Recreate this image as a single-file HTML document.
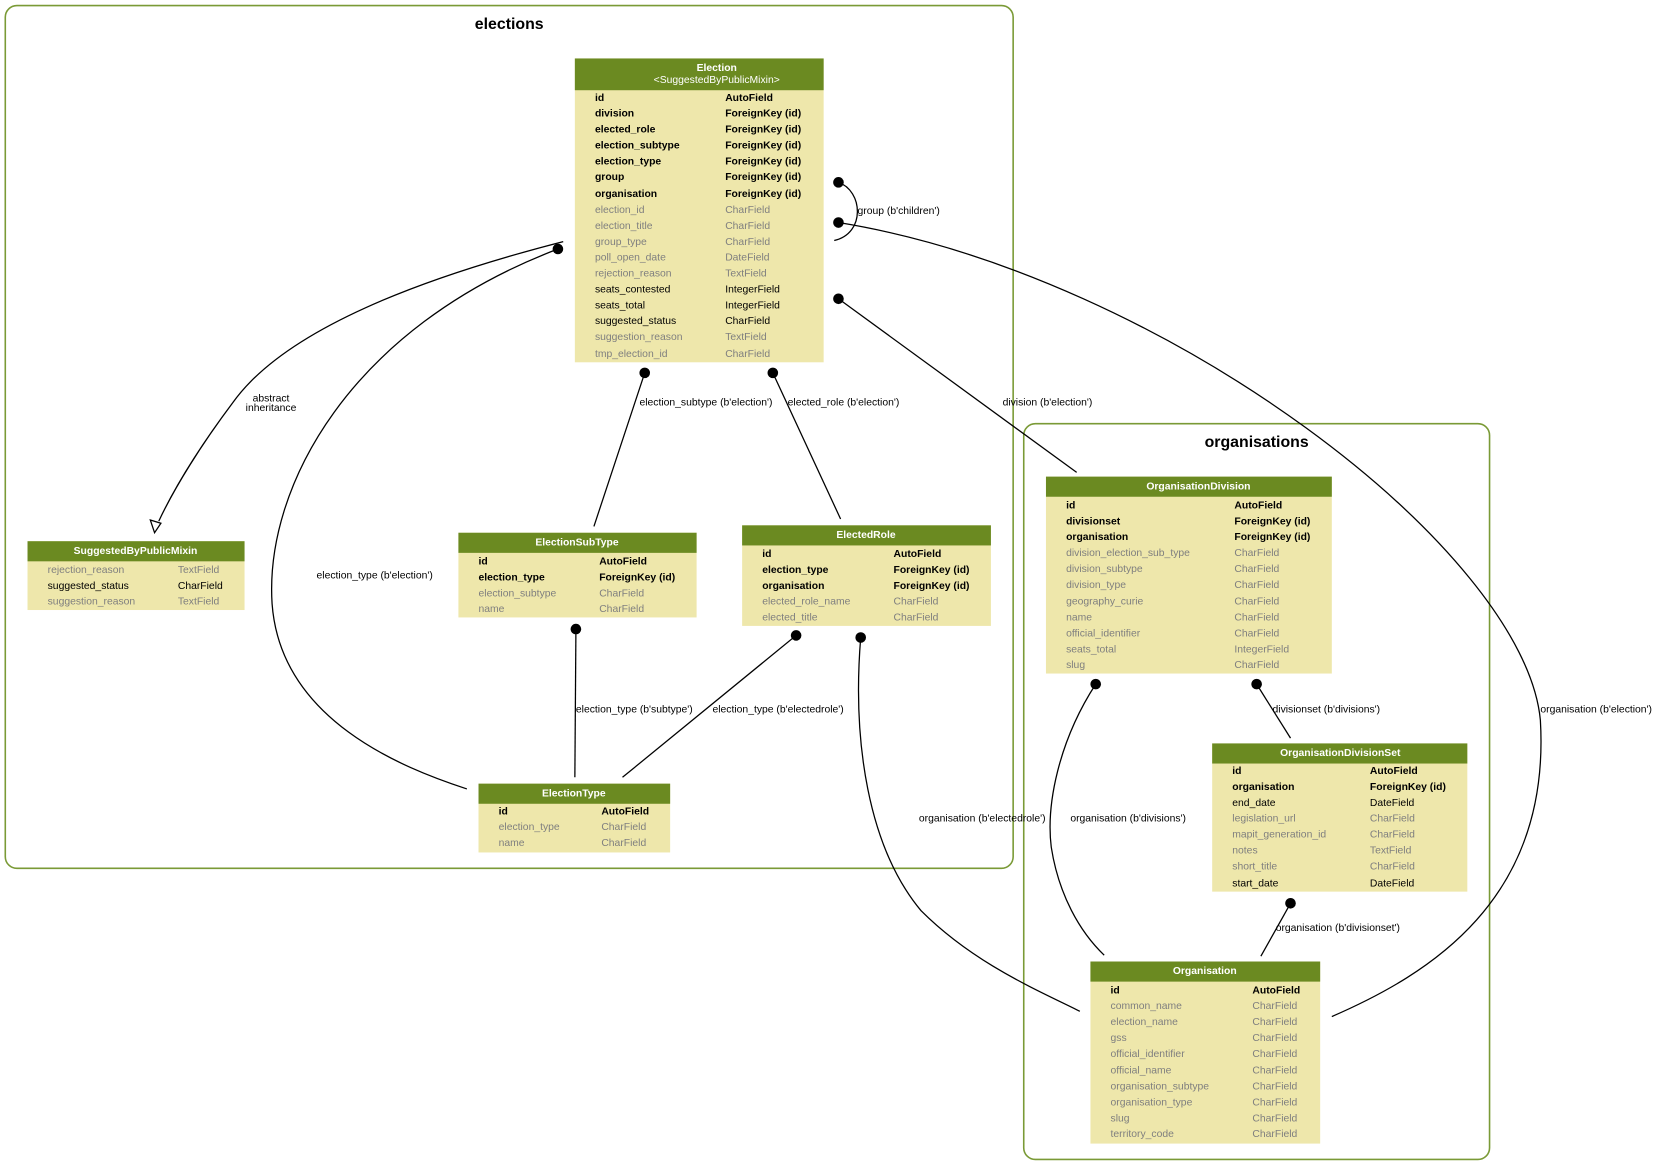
<!DOCTYPE html>
<html><head><meta charset="utf-8"><style>
html,body{margin:0;padding:0;background:#fff;}
svg{display:block;}
text{font-family:"Liberation Sans",Arial,sans-serif;}
.t{font-size:9.8px;fill:#000;}
.b{font-weight:bold;}
.g{fill:#7f7f7f;}
.h{fill:#fff;font-weight:bold;font-size:9.8px;text-anchor:middle;}
.n{font-weight:normal;}
.l{font-size:9.8px;fill:#000;}
.e{fill:none;stroke:#000;stroke-width:1.2;}
.hd{fill:#6b8a21;}
.bd{fill:#eee7ab;}
.cl{fill:none;stroke:#7a9a36;stroke-width:1.5;}
</style></head><body>
<svg width="1660" height="1165" viewBox="0 0 1568 1100" xmlns="http://www.w3.org/2000/svg">
<rect x="5" y="5" width="952" height="815" rx="11" class="cl"/>
<text x="481" y="27" text-anchor="middle" font-size="15" font-weight="bold">elections</text>
<rect x="967" y="400" width="440" height="695" rx="11" class="cl"/>
<text x="1187" y="422" text-anchor="middle" font-size="15" font-weight="bold">organisations</text>

<!-- edges -->
<path class="e" d="M792,172 C815,180 818,220 788,227"/>
<text class="l" x="810" y="202">group (b'children')</text>
<path class="e" d="M792,210 C1100,260 1440,520 1455,680 C1465,850 1350,920 1258,960"/>
<text class="l" x="1455" y="673">organisation (b'election')</text>
<path class="e" d="M792,282 L1017,446"/>
<text class="l" x="947" y="383">division (b'election')</text>
<path class="e" d="M609,352 L561,497"/>
<text class="l" x="604" y="383">election_subtype (b'election')</text>
<path class="e" d="M730,352 L794,490"/>
<text class="l" x="744" y="383">elected_role (b'election')</text>
<path class="e" d="M532,228 C400,262 270,310 220,380 C190,420 165,460 150,492"/>
<polygon points="142,491 152,494 146,503" fill="#fff" stroke="#000" stroke-width="1.2"/>
<text class="l" x="256" y="379" text-anchor="middle">abstract</text>
<text class="l" x="256" y="388" text-anchor="middle">inheritance</text>
<path class="e" d="M527,235 C330,310 250,460 257,570 C265,680 380,725 441,745"/>
<text class="l" x="299" y="546">election_type (b'election')</text>
<path class="e" d="M544,594 L543,734"/>
<text class="l" x="544" y="673">election_type (b'subtype')</text>
<path class="e" d="M752,600 L588,734"/>
<text class="l" x="673" y="673">election_type (b'electedrole')</text>
<path class="e" d="M813,602 C805,700 820,800 870,860 C920,910 980,935 1020,955"/>
<text class="l" x="868" y="776">organisation (b'electedrole')</text>
<path class="e" d="M1035,646 C1000,700 988,760 993,800 C1000,845 1020,880 1043,902"/>
<text class="l" x="1011" y="776">organisation (b'divisions')</text>
<path class="e" d="M1187,646 L1219,697"/>
<text class="l" x="1202" y="673">divisionset (b'divisions')</text>
<path class="e" d="M1219,853 L1191,903"/>
<text class="l" x="1205" y="879">organisation (b'divisionset')</text>
<g fill="#000">
<circle cx="792" cy="172" r="5"/><circle cx="792" cy="210" r="5"/><circle cx="792" cy="282" r="5"/>
<circle cx="609" cy="352" r="5"/><circle cx="730" cy="352" r="5"/><circle cx="527" cy="235" r="5"/>
<circle cx="544" cy="594" r="5"/><circle cx="752" cy="600" r="5"/><circle cx="813" cy="602" r="5"/>
<circle cx="1035" cy="646" r="5"/><circle cx="1187" cy="646" r="5"/><circle cx="1219" cy="853" r="5"/>
</g>

<!-- Election -->
<rect class="bd" x="543" y="55" width="235" height="287"/>
<rect class="hd" x="543" y="55" width="235" height="30"/>
<text class="h" x="677" y="67">Election</text>
<text class="h n" x="677" y="78">&lt;SuggestedByPublicMixin&gt;</text>
<g class="t">
<text class="b" x="562" y="95">id</text><text class="b" x="685" y="95">AutoField</text>
<text class="b" x="562" y="110">division</text><text class="b" x="685" y="110">ForeignKey (id)</text>
<text class="b" x="562" y="125">elected_role</text><text class="b" x="685" y="125">ForeignKey (id)</text>
<text class="b" x="562" y="140">election_subtype</text><text class="b" x="685" y="140">ForeignKey (id)</text>
<text class="b" x="562" y="155">election_type</text><text class="b" x="685" y="155">ForeignKey (id)</text>
<text class="b" x="562" y="170">group</text><text class="b" x="685" y="170">ForeignKey (id)</text>
<text class="b" x="562" y="186">organisation</text><text class="b" x="685" y="186">ForeignKey (id)</text>
<text class="g" x="562" y="201">election_id</text><text class="g" x="685" y="201">CharField</text>
<text class="g" x="562" y="216">election_title</text><text class="g" x="685" y="216">CharField</text>
<text class="g" x="562" y="231">group_type</text><text class="g" x="685" y="231">CharField</text>
<text class="g" x="562" y="246">poll_open_date</text><text class="g" x="685" y="246">DateField</text>
<text class="g" x="562" y="261">rejection_reason</text><text class="g" x="685" y="261">TextField</text>
<text x="562" y="276">seats_contested</text><text x="685" y="276">IntegerField</text>
<text x="562" y="291">seats_total</text><text x="685" y="291">IntegerField</text>
<text x="562" y="306">suggested_status</text><text x="685" y="306">CharField</text>
<text class="g" x="562" y="321">suggestion_reason</text><text class="g" x="685" y="321">TextField</text>
<text class="g" x="562" y="337">tmp_election_id</text><text class="g" x="685" y="337">CharField</text>
</g>

<!-- SuggestedByPublicMixin -->
<rect class="bd" x="26" y="511" width="205" height="65"/>
<rect class="hd" x="26" y="511" width="205" height="19"/>
<text class="h" x="128" y="523">SuggestedByPublicMixin</text>
<g class="t">
<text class="g" x="45" y="541">rejection_reason</text><text class="g" x="168" y="541">TextField</text>
<text x="45" y="556">suggested_status</text><text x="168" y="556">CharField</text>
<text class="g" x="45" y="571">suggestion_reason</text><text class="g" x="168" y="571">TextField</text>
</g>

<!-- ElectionSubType -->
<rect class="bd" x="433" y="503" width="225" height="80"/>
<rect class="hd" x="433" y="503" width="225" height="19"/>
<text class="h" x="545" y="515">ElectionSubType</text>
<g class="t">
<text class="b" x="452" y="533">id</text><text class="b" x="566" y="533">AutoField</text>
<text class="b" x="452" y="548">election_type</text><text class="b" x="566" y="548">ForeignKey (id)</text>
<text class="g" x="452" y="563">election_subtype</text><text class="g" x="566" y="563">CharField</text>
<text class="g" x="452" y="578">name</text><text class="g" x="566" y="578">CharField</text>
</g>

<!-- ElectedRole -->
<rect class="bd" x="701" y="496" width="235" height="95"/>
<rect class="hd" x="701" y="496" width="235" height="19"/>
<text class="h" x="818" y="508">ElectedRole</text>
<g class="t">
<text class="b" x="720" y="526">id</text><text class="b" x="844" y="526">AutoField</text>
<text class="b" x="720" y="541">election_type</text><text class="b" x="844" y="541">ForeignKey (id)</text>
<text class="b" x="720" y="556">organisation</text><text class="b" x="844" y="556">ForeignKey (id)</text>
<text class="g" x="720" y="571">elected_role_name</text><text class="g" x="844" y="571">CharField</text>
<text class="g" x="720" y="586">elected_title</text><text class="g" x="844" y="586">CharField</text>
</g>

<!-- ElectionType -->
<rect class="bd" x="452" y="740" width="181" height="65"/>
<rect class="hd" x="452" y="740" width="181" height="19"/>
<text class="h" x="542" y="752">ElectionType</text>
<g class="t">
<text class="b" x="471" y="769">id</text><text class="b" x="568" y="769">AutoField</text>
<text class="g" x="471" y="784">election_type</text><text class="g" x="568" y="784">CharField</text>
<text class="g" x="471" y="799">name</text><text class="g" x="568" y="799">CharField</text>
</g>

<!-- OrganisationDivision -->
<rect class="bd" x="988" y="450" width="270" height="186"/>
<rect class="hd" x="988" y="450" width="270" height="19"/>
<text class="h" x="1132" y="462">OrganisationDivision</text>
<g class="t">
<text class="b" x="1007" y="480">id</text><text class="b" x="1166" y="480">AutoField</text>
<text class="b" x="1007" y="495">divisionset</text><text class="b" x="1166" y="495">ForeignKey (id)</text>
<text class="b" x="1007" y="510">organisation</text><text class="b" x="1166" y="510">ForeignKey (id)</text>
<text class="g" x="1007" y="525">division_election_sub_type</text><text class="g" x="1166" y="525">CharField</text>
<text class="g" x="1007" y="540">division_subtype</text><text class="g" x="1166" y="540">CharField</text>
<text class="g" x="1007" y="555">division_type</text><text class="g" x="1166" y="555">CharField</text>
<text class="g" x="1007" y="571">geography_curie</text><text class="g" x="1166" y="571">CharField</text>
<text class="g" x="1007" y="586">name</text><text class="g" x="1166" y="586">CharField</text>
<text class="g" x="1007" y="601">official_identifier</text><text class="g" x="1166" y="601">CharField</text>
<text class="g" x="1007" y="616">seats_total</text><text class="g" x="1166" y="616">IntegerField</text>
<text class="g" x="1007" y="631">slug</text><text class="g" x="1166" y="631">CharField</text>
</g>

<!-- OrganisationDivisionSet -->
<rect class="bd" x="1145" y="702" width="241" height="140"/>
<rect class="hd" x="1145" y="702" width="241" height="19"/>
<text class="h" x="1266" y="714">OrganisationDivisionSet</text>
<g class="t">
<text class="b" x="1164" y="731">id</text><text class="b" x="1294" y="731">AutoField</text>
<text class="b" x="1164" y="746">organisation</text><text class="b" x="1294" y="746">ForeignKey (id)</text>
<text x="1164" y="761">end_date</text><text x="1294" y="761">DateField</text>
<text class="g" x="1164" y="776">legislation_url</text><text class="g" x="1294" y="776">CharField</text>
<text class="g" x="1164" y="791">mapit_generation_id</text><text class="g" x="1294" y="791">CharField</text>
<text class="g" x="1164" y="806">notes</text><text class="g" x="1294" y="806">TextField</text>
<text class="g" x="1164" y="821">short_title</text><text class="g" x="1294" y="821">CharField</text>
<text x="1164" y="837">start_date</text><text x="1294" y="837">DateField</text>
</g>

<!-- Organisation -->
<rect class="bd" x="1030" y="908" width="217" height="172"/>
<rect class="hd" x="1030" y="908" width="217" height="19"/>
<text class="h" x="1138" y="920">Organisation</text>
<g class="t">
<text class="b" x="1049" y="938">id</text><text class="b" x="1183" y="938">AutoField</text>
<text class="g" x="1049" y="953">common_name</text><text class="g" x="1183" y="953">CharField</text>
<text class="g" x="1049" y="968">election_name</text><text class="g" x="1183" y="968">CharField</text>
<text class="g" x="1049" y="983">gss</text><text class="g" x="1183" y="983">CharField</text>
<text class="g" x="1049" y="998">official_identifier</text><text class="g" x="1183" y="998">CharField</text>
<text class="g" x="1049" y="1014">official_name</text><text class="g" x="1183" y="1014">CharField</text>
<text class="g" x="1049" y="1029">organisation_subtype</text><text class="g" x="1183" y="1029">CharField</text>
<text class="g" x="1049" y="1044">organisation_type</text><text class="g" x="1183" y="1044">CharField</text>
<text class="g" x="1049" y="1059">slug</text><text class="g" x="1183" y="1059">CharField</text>
<text class="g" x="1049" y="1074">territory_code</text><text class="g" x="1183" y="1074">CharField</text>
</g>
</svg>
</body></html>
